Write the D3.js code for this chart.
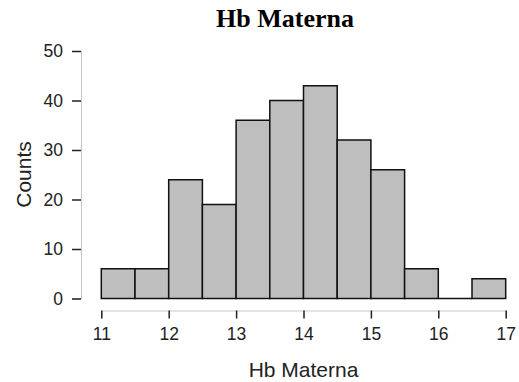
<!DOCTYPE html>
<html>
<head>
<meta charset="utf-8">
<script src="https://cdn.jsdelivr.net/npm/d3@7"></script>
<style>
  body { margin: 0; background: #fff; }
  svg text { font-family: "Liberation Sans", Arial, sans-serif; fill: #222; }
</style>
</head>
<body>
<script>
// bin edges and counts of the histogram
var binStarts = [11, 11.5, 12, 12.5, 13, 13.5, 14, 14.5, 15, 15.5, 16, 16.5]
var binWidth = 0.5
var counts = [6, 6, 24, 19, 36, 40, 43, 32, 26, 6, 0, 4]
var xTicks = [11, 12, 13, 14, 15, 16, 17]
var yTicks = [0, 10, 20, 30, 40, 50]

var W = 519, H = 382

var svg = d3.select("body")
  .append("svg")
  .attr("width", W)
  .attr("height", H)

var x = d3.scaleLinear().domain([11, 17]).range([101.3, 505.7])
var y = d3.scaleLinear().domain([0, 50]).range([298.5, 51])

// title
svg.append("text")
  .attr("x", 285)
  .attr("y", 27)
  .attr("text-anchor", "middle")
  .style("font-family", "'Liberation Serif', 'Times New Roman', serif")
  .style("font-weight", "bold")
  .style("font-size", "26px")
  .style("fill", "#000")
  .text("Hb Materna")

// bars (drawn as paths so that an empty bin still shows its base line)
svg.append("g")
  .selectAll("path")
  .data(binStarts)
  .enter()
  .append("path")
  .attr("d", function(d, i) {
    var x0 = x(d), x1 = x(d + binWidth), y0 = y(0), y1 = y(counts[i])
    return "M" + x0 + "," + y0 + "V" + y1 + "H" + x1 + "V" + y0 + "Z"
  })
  .attr("fill", "#bebebe")
  .attr("stroke", "#111")
  .attr("stroke-width", 1.5)
  .attr("stroke-linejoin", "miter")

// y axis
var yAxis = svg.append("g")
  .attr("transform", "translate(81,0)")
  .call(d3.axisLeft(y).tickValues(yTicks).tickSize(9).tickPadding(9).tickFormat(d3.format("d")))
yAxis.select(".domain").attr("stroke", "#c8c8c8").attr("stroke-width", 1)
yAxis.selectAll(".tick line").attr("stroke", "#222").attr("stroke-width", 1.5)
yAxis.selectAll("text").style("font-size", "17.5px")

// x axis
var xAxis = svg.append("g")
  .attr("transform", "translate(0,310.5)")
  .call(d3.axisBottom(x).tickValues(xTicks).tickSize(8).tickPadding(9).tickFormat(d3.format("d")))
xAxis.select(".domain").attr("stroke", "#c8c8c8").attr("stroke-width", 1)
xAxis.selectAll(".tick line").attr("stroke", "#222").attr("stroke-width", 1.5)
xAxis.selectAll("text").style("font-size", "17.5px")

// axis titles
svg.append("text")
  .attr("x", 303.5)
  .attr("y", 377)
  .attr("text-anchor", "middle")
  .style("font-size", "21px")
  .text("Hb Materna")

svg.append("text")
  .attr("transform", "translate(31,174.5) rotate(-90)")
  .attr("text-anchor", "middle")
  .style("font-size", "21px")
  .text("Counts")
</script>
</body>
</html>
